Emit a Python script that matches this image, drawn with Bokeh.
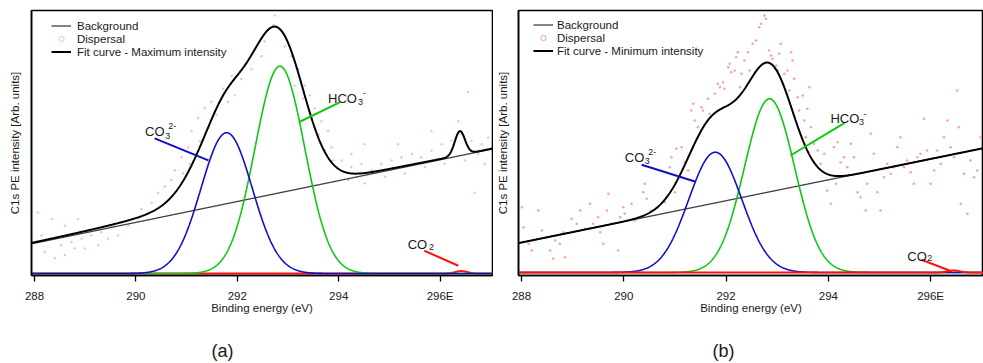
import numpy as np
from bokeh.plotting import figure
from bokeh.layouts import row, column
from bokeh.models import Range1d, FixedTicker, Label, Legend, LegendItem
from bokeh.embed import file_html
from bokeh.resources import INLINE

FONT = "Liberation Sans"
TXT = "#1a1a1a"

# ---------------- data ----------------
tick_values = [288, 290, 292, 294, 296]
tick_labels = ["288", "290", "292", "294", "296E"]
x_label = "Binding energy (eV)"
y_label = "C1s PE intensity [Arb. units]"
panel_captions = ["(a)", "(b)"]

# panel (a) : Maximum intensity (arbitrary units)
bg_a_x = [288.0, 297.0]
bg_a_y = [31.0, 127.0]
comp_a_center = [291.79, 292.84, 296.42]      # CO3 2-, HCO3 -, CO2
comp_a_height = [144.0, 212.0, 2.5]
comp_a_sigma = [0.505, 0.49, 0.12]
fit_a_center = [291.78, 292.82, 296.39]
fit_a_height = [99.0, 148.0, 24.5]
fit_a_sigma = [0.55, 0.50, 0.10]
fit_a_lorentz = [0.35, 0.0, 0.0]
disp_a_x = [292.74, 292.71, 292.54, 292.94, 293.07, 293.20, 293.33, 293.43, 293.53, 293.66,
            293.79, 293.46, 291.89, 291.72, 291.49, 291.36, 291.23, 291.10, 291.03, 290.90,
            290.77, 290.70, 290.57, 290.44, 290.31, 290.11, 289.91, 289.72, 289.52, 289.32,
            289.12, 288.93, 288.73, 288.53, 288.34, 288.14, 288.20, 288.40, 288.60, 288.79,
            288.99, 289.26, 289.45, 289.65, 289.85, 290.05, 290.24, 288.34, 288.60, 288.86,
            288.07, 293.86, 294.06, 294.25, 294.45, 294.65, 294.84, 295.04, 295.24, 295.44,
            295.63, 295.83, 296.03, 296.22, 296.42, 296.62, 296.82, 296.95, 294.19, 294.51,
            294.91, 295.30, 295.70, 296.09, 296.49, 296.75, 296.88, 296.55, 296.68, 294.51,
            294.25, 295.17, 295.83, 296.36, 292.48, 292.28, 292.08, 291.95, 291.82, 291.59,
            291.43, 291.26, 291.16, 291.06, 290.93, 293.13, 293.30, 293.60, 293.73, 293.89]
disp_a_y = [264.0, 254.0, 237.3, 232.3, 222.3, 209.0, 192.3, 182.3, 169.0, 155.7,
            145.7, 159.0, 202.3, 189.0, 175.7, 169.0, 159.0, 145.7, 129.0, 119.0,
            105.7, 95.7, 89.0, 82.3, 72.3, 65.7, 55.7, 52.3, 49.0, 42.3,
            39.0, 35.7, 32.3, 29.0, 35.7, 39.0, 22.3, 15.7, 19.0, 25.7,
            25.7, 29.0, 35.7, 39.0, 49.0, 55.7, 62.3, 55.7, 49.0, 55.7,
            62.3, 129.0, 115.7, 109.0, 112.3, 105.7, 112.3, 115.7, 119.0, 122.3,
            119.0, 125.7, 132.3, 135.7, 142.3, 135.7, 132.3, 139.0, 95.7, 92.3,
            99.0, 102.3, 109.0, 112.3, 115.7, 122.3, 112.3, 185.7, 82.3, 132.3,
            122.3, 132.3, 145.7, 155.7, 222.3, 209.0, 199.0, 182.3, 175.7, 162.3,
            149.0, 135.7, 122.3, 112.3, 102.3, 192.3, 179.0, 142.3, 125.7, 115.7]

# panel (b) : Minimum intensity (arbitrary units)
bg_b_x = [288.0, 297.0]
bg_b_y = [30.0, 124.0]
comp_b_center = [291.79, 292.85, 296.45]
comp_b_height = [120.3, 173.7, 2.0]
comp_b_sigma = [0.52, 0.49, 0.12]
fit_b_center = [291.75, 292.85]
fit_b_height = [82.0, 121.5]
fit_b_sigma = [0.50, 0.46]
fit_b_lorentz = [0.0, 0.0]
disp_b_x = [288.01, 288.04, 288.14, 288.20, 288.33, 288.40, 288.49, 288.56, 288.62, 288.66,
            288.75, 288.82, 288.85, 288.98, 289.08, 289.15, 289.24, 289.34, 289.40, 289.50,
            289.54, 289.60, 289.67, 289.70, 289.76, 289.89, 289.93, 289.99, 290.02, 290.15,
            290.22, 290.38, 290.41, 290.45, 290.54, 290.67, 290.80, 290.90, 290.93, 291.00,
            291.03, 291.13, 291.19, 291.26, 291.32, 291.36, 291.39, 291.45, 291.52, 291.55,
            291.65, 291.68, 291.78, 291.84, 291.88, 291.94, 291.97, 292.04, 292.07, 292.10,
            292.17, 292.20, 292.23, 292.27, 292.30, 292.36, 292.43, 292.46,
            292.52, 292.585, 292.65, 292.68, 292.75, 292.78, 292.84, 292.88, 292.91, 292.98,
            293.01, 293.04, 293.07, 293.11, 293.14, 293.20, 293.24, 293.27, 293.30, 293.33,
            293.40, 293.43, 293.50, 293.53, 293.56, 293.59, 293.63, 293.66, 293.72, 293.79,
            293.85, 293.92, 293.98, 294.05, 294.11, 294.15, 294.18, 294.24, 294.31, 294.37,
            294.44, 294.50, 294.57, 294.63, 294.73, 294.76, 294.83, 294.89, 294.96, 295.02,
            295.09, 295.15, 295.22, 295.28, 295.35, 295.41, 295.48, 295.54, 295.61, 295.67,
            295.74, 295.80, 295.87, 295.93, 296.00, 296.07, 296.13, 296.20, 296.26, 296.33,
            296.39, 296.46, 296.52, 296.55, 296.59, 296.65, 296.72, 296.78, 296.85, 296.91,
            296.98]
disp_b_y = [65.3, 45.3, 28.7, 22.0, 62.0, 42.0, 35.3, 22.0, 13.7, 32.0,
            28.7, 40.3, 15.3, 53.7, 48.7, 62.0, 43.7, 68.7, 48.7, 55.3,
            40.3, 28.7, 62.0, 78.7, 48.7, 22.0, 55.3, 65.3, 58.7, 68.7,
            52.0, 80.3, 88.7, 73.7, 62.0, 65.3, 70.3, 105.3, 115.3, 80.3,
            123.7, 125.3, 110.3, 102.0, 162.0, 168.7, 152.0, 145.3, 165.3, 162.0,
            173.7, 158.7, 178.7, 188.7, 185.3, 190.3, 183.7, 205.3, 208.7, 200.3,
            202.0, 215.3, 220.3, 185.3, 198.7, 212.0, 220.3, 202.0,
            228.7, 232.0, 245.3, 248.7, 257.0, 253.7, 222.0, 217.0, 213.7, 207.0,
            202.0, 218.7, 228.7, 188.7, 198.7, 202.0, 182.0, 220.3, 212.0, 193.7,
            175.3, 162.0, 177.0, 152.0, 135.3, 163.7, 185.3, 145.3, 128.7, 122.0,
            108.7, 118.7, 82.0, 68.7, 125.3, 88.7, 130.3, 110.3, 115.3, 105.3,
            128.7, 115.3, 80.3, 75.3, 62.0, 88.7, 138.7, 118.7, 80.3, 62.0,
            95.3, 108.7, 98.7, 105.3, 125.3, 135.3, 105.3, 112.0, 100.3, 88.7,
            115.3, 118.7, 153.7, 122.0, 88.7, 102.0, 122.0, 108.7, 135.3, 152.0,
            125.3, 115.3, 182.0, 145.3, 68.7, 98.7, 58.7, 112.0, 95.3, 102.0,
            135.3]


def peak_sum(x, centers, heights, sigmas, lorentz=None):
    out = np.zeros_like(x)
    if lorentz is None:
        lorentz = [0.0] * len(centers)
    for c, h, s, eta in zip(centers, heights, sigmas, lorentz):
        g = np.exp(-((x - c) ** 2) / (2 * s * s))
        hw = 1.1774 * s
        lo = 1.0 / (1.0 + ((x - c) / hw) ** 2)
        out += h * ((1 - eta) * g + eta * lo)
    return out


def linear_bg(x, bx, by):
    return by[0] + (x - bx[0]) * (by[1] - by[0]) / (bx[1] - bx[0])


PANEL_H = 340


def make_panel(width, xr, yr, bl, br, bt, bb, y_standoff):
    p = figure(width=width, height=PANEL_H, x_range=Range1d(*xr), y_range=Range1d(*yr),
               output_backend="svg", toolbar_location=None,
               min_border_left=bl, min_border_right=br, min_border_top=bt, min_border_bottom=bb)
    p.grid.visible = False
    p.outline_line_color = "black"
    p.outline_line_width = 1.6
    p.background_fill_color = "white"
    p.border_fill_color = "white"
    xa = p.xaxis[0]
    xa.ticker = FixedTicker(ticks=tick_values)
    xa.major_label_overrides = {v: t for v, t in zip(tick_values, tick_labels)}
    xa.minor_tick_line_color = None
    xa.major_tick_out = 6
    xa.major_tick_in = 0
    xa.major_tick_line_width = 1.3
    xa.axis_line_width = 1.5
    xa.axis_line_color = "black"
    xa.major_label_standoff = 8
    xa.major_label_text_font = FONT
    xa.major_label_text_font_size = "11.5px"
    xa.major_label_text_color = TXT
    xa.axis_label = x_label
    xa.axis_label_text_font = FONT
    xa.axis_label_text_font_size = "11.5px"
    xa.axis_label_text_font_style = "normal"
    xa.axis_label_text_color = TXT
    xa.axis_label_standoff = -3
    ya = p.yaxis[0]
    ya.ticker = FixedTicker(ticks=[])
    ya.major_tick_line_color = None
    ya.minor_tick_line_color = None
    ya.major_tick_out = 0
    ya.major_label_standoff = 0
    ya.major_label_text_font_size = "0px"
    ya.axis_line_width = 1.5
    ya.axis_line_color = "black"
    ya.axis_label = y_label
    ya.axis_label_text_font = FONT
    ya.axis_label_text_font_size = "11.5px"
    ya.axis_label_text_font_style = "normal"
    ya.axis_label_text_color = TXT
    ya.axis_label_standoff = y_standoff
    return p


def add_text(p, x, y, text, size):
    p.add_layout(Label(x=x, y=y, text=text, text_font=FONT, text_font_size=size,
                       text_color=TXT, text_align="left", text_baseline="alphabetic"))


BLUE = "#1010c8"
GREEN = "#10c810"
RED = "#ff1010"
NAN = [float("nan")]

# ---------------- panel (a) ----------------
xa_rng = (288 - 3 / 50.7, 288 + 458 / 50.7)
pa = make_panel(493, xa_rng, (-2, 269), 31, 1, 5, PANEL_H - 276, 11)
xg = np.linspace(xa_rng[0], xa_rng[1], 900)
bg_a = linear_bg(xg, bg_a_x, bg_a_y)

pa.scatter(disp_a_x, disp_a_y, marker="circle", size=2.4, fill_color="#f7b8b8",
           line_color=None, fill_alpha=0.9)
r_bg_a = pa.line(xg, bg_a, line_color="#404040", line_width=1.3)
pa.line(xg, peak_sum(xg, [comp_a_center[2]], [comp_a_height[2]], [comp_a_sigma[2]]),
        line_color=RED, line_width=2)
pa.line(xg, peak_sum(xg, [comp_a_center[1]], [comp_a_height[1]], [comp_a_sigma[1]]),
        line_color=GREEN, line_width=1.6)
pa.line(xg, peak_sum(xg, [comp_a_center[0]], [comp_a_height[0]], [comp_a_sigma[0]]),
        line_color=BLUE, line_width=1.6)
r_fit_a = pa.line(xg, bg_a + peak_sum(xg, fit_a_center, fit_a_height, fit_a_sigma, fit_a_lorentz),
                  line_color="black", line_width=2)
r_disp_a = pa.scatter(NAN, NAN, marker="circle", size=9, fill_color=None,
                      line_color="#f8c4c4", line_width=1)

# pointer lines
pa.segment(x0=[290.37, 294.02, 295.69], y0=[138.3, 175.0, 23.3],
           x1=[291.43, 293.22, 296.36], y1=[115.7, 155.0, 8.0],
           line_color=[BLUE, GREEN, RED], line_width=2)
add_text(pa, 290.18, 145.0, "CO", "13px")
add_text(pa, 290.58, 141.0, "3", "9px")
add_text(pa, 290.64, 150.7, "2-", "9px")
add_text(pa, 293.79, 179.0, "HCO", "13px")
add_text(pa, 294.38, 175.7, "3", "9px")
add_text(pa, 294.48, 184.3, "-", "9px")
add_text(pa, 295.36, 29.7, "CO", "13px")
add_text(pa, 295.78, 27.3, "2", "9px")

leg_a = Legend(items=[LegendItem(label="Background", renderers=[r_bg_a]),
                      LegendItem(label="Dispersal", renderers=[r_disp_a]),
                      LegendItem(label="Fit curve - Maximum intensity", renderers=[r_fit_a])],
               location=(20, 217), padding=0, spacing=0, margin=0,
               label_height=13, glyph_height=13, glyph_width=20, label_standoff=6,
               label_text_font=FONT, label_text_font_size="11.5px", label_text_color=TXT,
               background_fill_alpha=0, border_line_color=None)
pa.add_layout(leg_a)

# ---------------- panel (b) ----------------
xb_rng = (288 - 3 / 51.25, 288 + 463 / 51.25)
pb = make_panel(490, xb_rng, (-3, 262), 24, 0, 10, PANEL_H - 275, 10)
xg2 = np.linspace(xb_rng[0], xb_rng[1], 900)
bg_b = linear_bg(xg2, bg_b_x, bg_b_y)

pb.scatter(disp_b_x, disp_b_y, marker="circle", size=2.6, fill_color="#f29a9a",
           line_color=None, fill_alpha=0.9)
r_bg_b = pb.line(xg2, bg_b, line_color="#404040", line_width=1.3)
pb.line(xg2, peak_sum(xg2, [comp_b_center[1]], [comp_b_height[1]], [comp_b_sigma[1]]),
        line_color=GREEN, line_width=1.6)
pb.line(xg2, peak_sum(xg2, [comp_b_center[0]], [comp_b_height[0]], [comp_b_sigma[0]]),
        line_color=BLUE, line_width=1.6)
pb.line(xg2, peak_sum(xg2, [comp_b_center[2]], [comp_b_height[2]], [comp_b_sigma[2]]),
        line_color=RED, line_width=2)
r_fit_b = pb.line(xg2, bg_b + peak_sum(xg2, fit_b_center, fit_b_height, fit_b_sigma, fit_b_lorentz),
                  line_color="black", line_width=2)
r_disp_b = pb.scatter(NAN, NAN, marker="circle", size=9, fill_color=None,
                      line_color="#f4a0a0", line_width=1)

pb.segment(x0=[290.35, 294.32, 295.82], y0=[107.7, 149.7, 12.7],
           x1=[291.39, 293.26, 296.42], y1=[91.0, 117.0, 1.0],
           line_color=[BLUE, GREEN, RED], line_width=2)
add_text(pb, 290.02, 115.3, "CO", "13px")
add_text(pb, 290.41, 112.0, "3", "9px")
add_text(pb, 290.48, 120.3, "2-", "9px")
add_text(pb, 294.04, 153.7, "HCO", "13px")
add_text(pb, 294.60, 150.3, "3", "9px")
add_text(pb, 294.69, 159.0, "-", "9px")
add_text(pb, 295.545, 16.0, "CO", "13px")
add_text(pb, 295.935, 14.5, "2", "9px")

leg_b = Legend(items=[LegendItem(label="Background", renderers=[r_bg_b]),
                      LegendItem(label="Dispersal", renderers=[r_disp_b]),
                      LegendItem(label="Fit curve - Minimum intensity", renderers=[r_fit_b])],
               location=(15, 218), padding=0, spacing=0, margin=0,
               label_height=13, glyph_height=13, glyph_width=20, label_standoff=4,
               label_text_font=FONT, label_text_font_size="11.5px", label_text_color=TXT,
               background_fill_alpha=0, border_line_color=None)
pb.add_layout(leg_b)

# ---------------- caption strip with (a) / (b) ----------------
CAP_H = 363 - PANEL_H
cap = figure(width=983, height=CAP_H, x_range=Range1d(0, 983), y_range=Range1d(0, CAP_H),
             output_backend="svg", toolbar_location=None, x_axis_type=None, y_axis_type=None,
             min_border_left=0, min_border_right=0, min_border_top=0, min_border_bottom=0)
cap.grid.visible = False
cap.outline_line_color = None
for cx, txt in zip([222, 723], panel_captions):
    cap.add_layout(Label(x=cx, y=CAP_H - 10, text=txt, text_font=FONT, text_font_size="18px",
                         text_color=TXT, text_align="center", text_baseline="middle"))

layout = column(row(pa, pb, spacing=0), cap, spacing=0)
open("out.html", "w").write(file_html(layout, INLINE))
